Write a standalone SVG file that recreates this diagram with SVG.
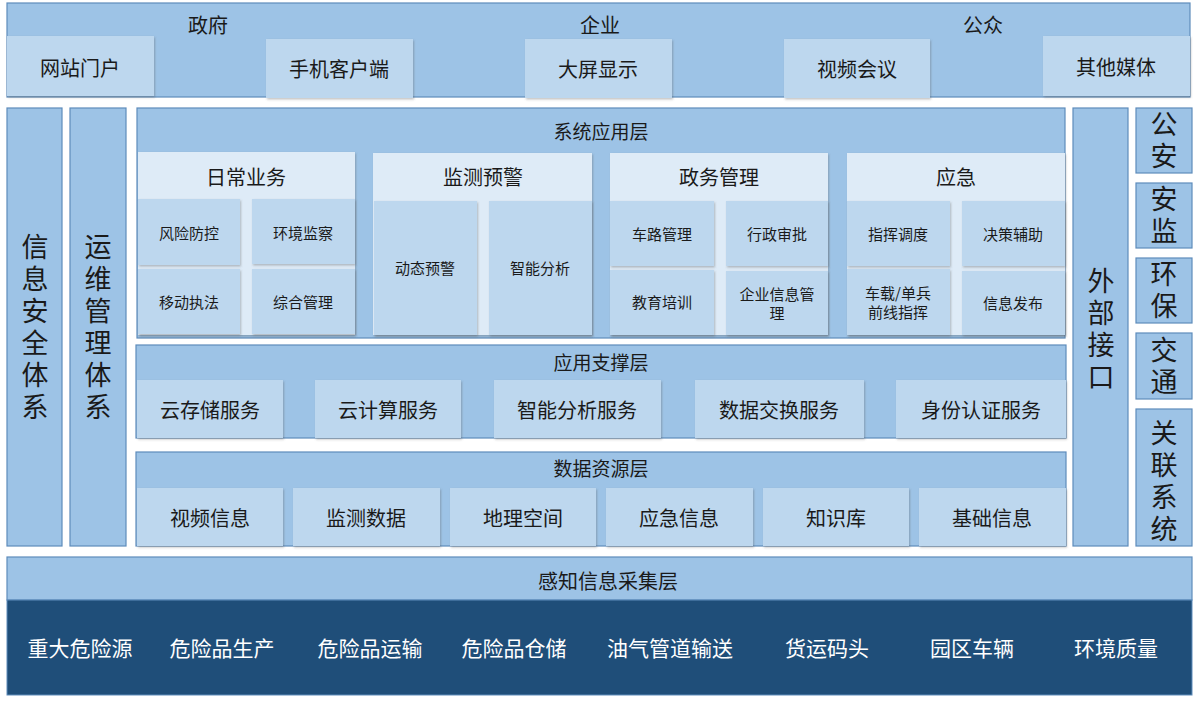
<svg xmlns="http://www.w3.org/2000/svg" width="1200" height="706" viewBox="0 0 1200 706">
<defs>
<filter id="sh" x="-5%" y="-5%" width="115%" height="115%">
<feDropShadow dx="1" dy="1.5" stdDeviation="1" flood-color="#555" flood-opacity="0.35"/>
</filter>
</defs>
<style>
.box{fill:#9DC3E6;stroke:#5E8CBB;stroke-width:1.2}
.cell{fill:#BDD7EE;filter:url(#sh)}
.pan{fill:#DEEBF7;filter:url(#sh)}
text{font-family:"Noto Sans CJK SC","Noto Sans",sans-serif;fill:#1a1a1a;text-anchor:middle;dominant-baseline:central}
.t20{font-size:20px}
.t19{font-size:19px}
.t15{font-size:15px}
.v{font-size:27px;writing-mode:tb;letter-spacing:5px}
.w{fill:#ffffff;font-size:21px}
</style>
<rect width="1200" height="706" fill="#ffffff"/>

<g id="top">
<rect class="box" x="7" y="3" width="1183" height="94"/>
<text class="t20" x="208" y="24">政府</text>
<text class="t20" x="600" y="24">企业</text>
<text class="t20" x="983" y="24">公众</text>
</g>
<g id="n-web"><rect class="cell" x="7" y="36" width="147" height="60"/><text class="t20" x="80" y="67">网站门户</text></g>
<g id="n-mobile"><rect class="cell" x="266" y="39" width="147" height="59"/><text class="t20" x="339" y="68">手机客户端</text></g>
<g id="n-screen"><rect class="cell" x="525" y="39" width="147" height="59"/><text class="t20" x="598" y="68">大屏显示</text></g>
<g id="n-video"><rect class="cell" x="784" y="39" width="146" height="59"/><text class="t20" x="857" y="68">视频会议</text></g>
<g id="n-media"><rect class="cell" x="1043" y="36" width="147" height="60"/><text class="t20" x="1116" y="66">其他媒体</text></g>

<g id="n-security">
<rect class="box" x="7" y="108" width="55" height="438"/>
<text class="v" x="35" y="329">信息安全体系</text>
</g>
<g id="n-ops">
<rect class="box" x="70" y="108" width="56" height="438"/>
<text class="v" x="98" y="329">运维管理体系</text>
</g>

<g id="n-sysapp">
<rect class="box" x="137" y="108" width="928" height="230"/>
<text class="t19" x="601" y="130">系统应用层</text>
</g>
<g id="n-daily">
<rect class="pan" x="138" y="152" width="217" height="183"/>
<text class="t20" x="246" y="176">日常业务</text>
<rect class="cell" x="138" y="199" width="102" height="66"/><text class="t15" x="189" y="232">风险防控</text>
<rect class="cell" x="252" y="199" width="103" height="65"/><text class="t15" x="303" y="232">环境监察</text>
<rect class="cell" x="138" y="269" width="102" height="65"/><text class="t15" x="189" y="301">移动执法</text>
<rect class="cell" x="252" y="269" width="103" height="65"/><text class="t15" x="303" y="301">综合管理</text>
</g>
<g id="n-monitor">
<rect class="pan" x="373" y="153" width="219" height="182"/>
<text class="t20" x="483" y="176">监测预警</text>
<rect class="cell" x="374" y="201" width="103" height="134"/><text class="t15" x="425" y="267">动态预警</text>
<rect class="cell" x="489" y="201" width="103" height="134"/><text class="t15" x="540" y="267">智能分析</text>
</g>
<g id="n-gov">
<rect class="pan" x="610" y="153" width="218" height="182"/>
<text class="t20" x="719" y="176">政务管理</text>
<rect class="cell" x="610" y="201" width="104" height="65"/><text class="t15" x="662" y="233">车路管理</text>
<rect class="cell" x="726" y="201" width="102" height="65"/><text class="t15" x="777" y="233">行政审批</text>
<rect class="cell" x="610" y="270" width="104" height="65"/><text class="t15" x="662" y="301">教育培训</text>
<rect class="cell" x="726" y="271" width="102" height="64"/><text class="t15" x="777" y="293">企业信息管</text><text class="t15" x="777" y="312">理</text>
</g>
<g id="n-emerg">
<rect class="pan" x="847" y="153" width="218" height="182"/>
<text class="t20" x="956" y="176">应急</text>
<rect class="cell" x="847" y="201" width="103" height="65"/><text class="t15" x="898" y="233">指挥调度</text>
<rect class="cell" x="962" y="201" width="103" height="65"/><text class="t15" x="1013" y="233">决策辅助</text>
<rect class="cell" x="847" y="269" width="103" height="66"/><text class="t15" x="898" y="292">车载/单兵</text><text class="t15" x="898" y="311">前线指挥</text>
<rect class="cell" x="962" y="271" width="103" height="64"/><text class="t15" x="1013" y="302">信息发布</text>
</g>

<g id="n-support">
<rect class="box" x="136" y="345" width="930" height="93"/>
<text class="t19" x="601" y="361">应用支撑层</text>
<rect class="cell" x="137" y="380" width="146" height="58"/><text class="t20" x="210" y="409">云存储服务</text>
<rect class="cell" x="315" y="380" width="146" height="58"/><text class="t20" x="388" y="409">云计算服务</text>
<rect class="cell" x="494" y="380" width="167" height="58"/><text class="t20" x="577" y="409">智能分析服务</text>
<rect class="cell" x="695" y="380" width="169" height="58"/><text class="t20" x="779" y="409">数据交换服务</text>
<rect class="cell" x="896" y="380" width="170" height="58"/><text class="t20" x="981" y="409">身份认证服务</text>
</g>

<g id="n-data">
<rect class="box" x="136" y="452" width="930" height="94"/>
<text class="t19" x="601" y="467">数据资源层</text>
<rect class="cell" x="137" y="488" width="146" height="58"/><text class="t20" x="210" y="517">视频信息</text>
<rect class="cell" x="293" y="488" width="147" height="58"/><text class="t20" x="366" y="517">监测数据</text>
<rect class="cell" x="450" y="488" width="146" height="58"/><text class="t20" x="523" y="517">地理空间</text>
<rect class="cell" x="606" y="488" width="147" height="58"/><text class="t20" x="679" y="517">应急信息</text>
<rect class="cell" x="763" y="488" width="146" height="58"/><text class="t20" x="836" y="517">知识库</text>
<rect class="cell" x="919" y="488" width="147" height="58"/><text class="t20" x="992" y="517">基础信息</text>
</g>

<g id="n-ext">
<rect class="box" x="1073" y="108" width="55" height="438"/>
<text class="v" x="1101" y="331">外部接口</text>
</g>
<g id="n-police"><rect class="box" x="1136" y="108" width="56" height="65"/><text class="v" x="1164" y="142">公安</text></g>
<g id="n-safety"><rect class="box" x="1136" y="183" width="56" height="65"/><text class="v" x="1164" y="217">安监</text></g>
<g id="n-env"><rect class="box" x="1136" y="258" width="56" height="65"/><text class="v" x="1164" y="292">环保</text></g>
<g id="n-traffic"><rect class="box" x="1136" y="333" width="56" height="66"/><text class="v" x="1164" y="368">交通</text></g>
<g id="n-related"><rect class="box" x="1136" y="409" width="56" height="137"/><text class="v" x="1164" y="483">关联系统</text></g>

<g id="n-sense">
<rect x="7" y="557" width="1185" height="43" fill="#9DC3E6" stroke="#5E8CBB" stroke-width="1.2"/>
<rect x="7" y="600" width="1185" height="95" fill="#1F4E79" stroke="#5E8CBB" stroke-width="1"/>
<text class="t20" x="608" y="580">感知信息采集层</text>
<text class="w" x="80" y="647">重大危险源</text>
<text class="w" x="222" y="647">危险品生产</text>
<text class="w" x="370" y="647">危险品运输</text>
<text class="w" x="514" y="647">危险品仓储</text>
<text class="w" x="670" y="647">油气管道输送</text>
<text class="w" x="827" y="647">货运码头</text>
<text class="w" x="972" y="647">园区车辆</text>
<text class="w" x="1116" y="647">环境质量</text>
</g>
<g id="connectors"></g>
</svg>
